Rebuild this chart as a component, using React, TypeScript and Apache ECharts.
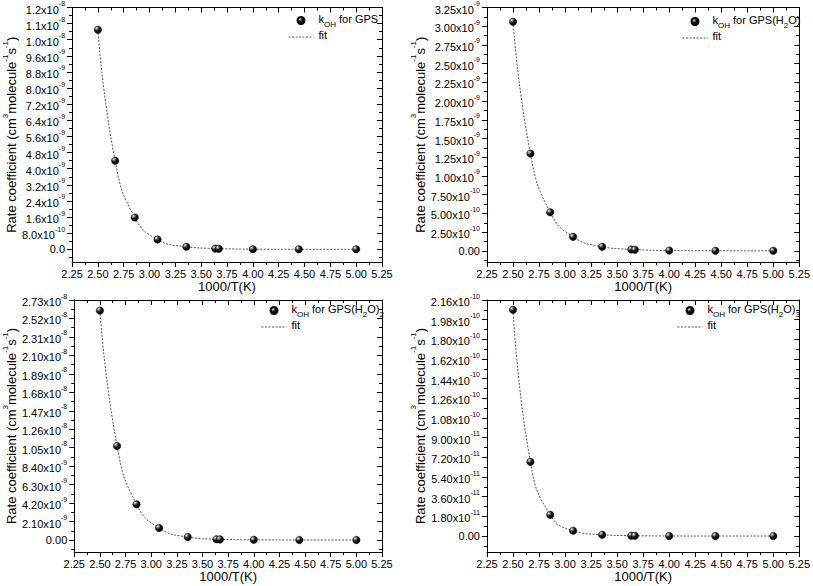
import React, { useEffect, useRef } from "react";
import * as echarts from "echarts";

const FONT = "'Liberation Sans', Arial, Helvetica, sans-serif";

// 1000/T (K^-1)
const invTemp = [2.5, 2.667, 2.857, 3.077, 3.356, 3.636, 3.67, 4.0, 4.444, 5.0];

// Rate coefficients (cm^3 molecule^-1 s^-1)
const kGPS = [1.09e-8, 4.4e-9, 1.58e-9, 4.9e-10, 1.3e-10, 3.5e-11, 3.0e-11, 6e-12, 1e-12, 2e-13];
const kGPS_H2O = [3.06e-9, 1.3e-9, 5.15e-10, 1.87e-10, 5.5e-11, 1.8e-11, 1.5e-11, 4e-12, 1e-12, 2e-13];
const kGPS_H2O2 = [2.61e-8, 1.07e-8, 4.06e-9, 1.37e-9, 3.4e-10, 8e-11, 7e-11, 2e-11, 4e-12, 1e-12];
const kGPS_H2O3 = [2.07e-10, 6.79e-11, 1.94e-11, 4.9e-12, 1.2e-12, 3e-13, 2.5e-13, 5e-14, 1e-14, 0];

// y tick values
const ticksGPS = [0, 8e-10, 1.6e-9, 2.4e-9, 3.2e-9, 4.0e-9, 4.8e-9, 5.6e-9, 6.4e-9, 7.2e-9, 8.0e-9, 8.8e-9, 9.6e-9, 1.04e-8, 1.12e-8, 1.2e-8];
const ticksGPS_H2O = [0, 2.5e-10, 5.0e-10, 7.5e-10, 1.0e-9, 1.25e-9, 1.5e-9, 1.75e-9, 2.0e-9, 2.25e-9, 2.5e-9, 2.75e-9, 3.0e-9, 3.25e-9];
const ticksGPS_H2O2 = [0, 2.1e-9, 4.2e-9, 6.3e-9, 8.4e-9, 1.05e-8, 1.26e-8, 1.47e-8, 1.68e-8, 1.89e-8, 2.1e-8, 2.31e-8, 2.52e-8, 2.73e-8];
const ticksGPS_H2O3 = [0, 1.8e-11, 3.6e-11, 5.4e-11, 7.2e-11, 9.0e-11, 1.08e-10, 1.26e-10, 1.44e-10, 1.62e-10, 1.8e-10, 1.98e-10, 2.16e-10];

const seriesNames = ["kOH for GPS", "kOH for GPS(H2O)", "kOH for GPS(H2O)2", "kOH for GPS(H2O)3"];
const legendRich: Record<string, string> = {
  "kOH for GPS": "{t|k}{b|OH}{t| for GPS}",
  "kOH for GPS(H2O)": "{t|k}{b|OH}{t| for GPS(H}{b|2}{t|O)}",
  "kOH for GPS(H2O)2": "{t|k}{b|OH}{t| for GPS(H}{b|2}{t|O)}{b|2}",
  "kOH for GPS(H2O)3": "{t|k}{b|OH}{t| for GPS(H}{b|2}{t|O)}{b|3}",
  fit: "{t|fit}",
};

const xTitle = "1000/T(K)";
const yTitle = "{t|Rate coefficient (cm}{s|3}{t|molecule}{s|-1}{t|s}{s|-1}{t|)}";

const panels = [
  { name: seriesNames[0], values: kGPS, ticks: ticksGPS, dec: 1, min: -6.3e-10, max: 1.2e-8,
    grid: { left: 68, top: 6, width: 314, height: 256 }, nameGap: 51, legend: { left: 288, top: 13 } },
  { name: seriesNames[1], values: kGPS_H2O, ticks: ticksGPS_H2O, dec: 2, min: -1.49e-10, max: 3.25e-9,
    grid: { left: 487, top: 6, width: 315, height: 256 }, nameGap: 60, legend: { left: 682, top: 14 } },
  { name: seriesNames[2], values: kGPS_H2O2, ticks: ticksGPS_H2O2, dec: 2, min: -1.365e-9, max: 2.73e-8,
    grid: { left: 68, top: 300, width: 314, height: 252 }, nameGap: 54, legend: { left: 261, top: 303 } },
  { name: seriesNames[3], values: kGPS_H2O3, ticks: ticksGPS_H2O3, dec: 2, min: -1.46e-11, max: 2.16e-10,
    grid: { left: 487, top: 300, width: 315, height: 252 }, nameGap: 60, legend: { left: 677, top: 303 } },
];

function fmt(v: number, dec: number) {
  if (Math.abs(v) < 1e-20) return "{z|" + (0).toFixed(dec) + "}";
  const e = Math.floor(Math.log10(Math.abs(v)) + 1e-9);
  const m = v / Math.pow(10, e);
  return "{m|" + m.toFixed(dec) + "x10}{e|" + e + "}";
}

function minorOf(ticks: number[], min: number, max: number) {
  const out: number[] = [];
  const step = ticks[1] - ticks[0];
  if (ticks[0] - step / 2 >= min) out.push(ticks[0] - step / 2);
  for (let i = 0; i < ticks.length - 1; i++) out.push((ticks[i] + ticks[i + 1]) / 2);
  const last = ticks[ticks.length - 1];
  if (last + step / 2 <= max) out.push(last + step / 2);
  return out;
}

const black = "#000";
const labelRich = {
  m: { fontSize: 11, fontFamily: FONT, color: black, lineHeight: 15, verticalAlign: "bottom" },
  e: { fontSize: 7, fontFamily: FONT, color: black, lineHeight: 7, verticalAlign: "top" },
  z: { fontSize: 11, fontFamily: FONT, color: black, lineHeight: 13 },
};

export default function App() {
  const ref = useRef<HTMLDivElement>(null);
  useEffect(() => {
    document.body.style.margin = "0";
    if (!ref.current) return;
    const chart = echarts.init(ref.current, null, { renderer: "svg" });

    const sphere = new echarts.graphic.RadialGradient(0.33, 0.3, 0.7, [
      { offset: 0, color: "#ffffff" },
      { offset: 0.18, color: "#9a9a9a" },
      { offset: 0.5, color: "#1a1a1a" },
      { offset: 1, color: "#000000" },
    ]);

    const xAxis: any[] = [];
    const yAxis: any[] = [];
    const series: any[] = [];
    const legend: any[] = [];

    panels.forEach((p, i) => {
      const xBase = {
        type: "value", gridIndex: i, min: 2.25, max: 5.25, interval: 0.25,
        splitLine: { show: false },
        axisLine: { show: true, onZero: false, lineStyle: { color: black, width: 1 } },
        minorTick: { show: true, splitNumber: 2, length: 3, lineStyle: { color: black, width: 1 } },
      };
      xAxis.push({
        ...xBase, position: "bottom",
        axisTick: { show: true, length: 5, lineStyle: { color: black, width: 1 } },
        axisLabel: { fontSize: 11, fontFamily: FONT, color: black, margin: 6, formatter: (v: number) => v.toFixed(2) },
        name: xTitle, nameLocation: "middle", nameGap: 17,
        nameTextStyle: { fontSize: 13, fontFamily: FONT, color: black },
      });
      xAxis.push({
        ...xBase, position: "top",
        axisTick: { show: true, inside: true, length: 5, lineStyle: { color: black, width: 1 } },
        axisLabel: { show: false },
      });

      const minor = minorOf(p.ticks, p.min, p.max);
      const yBase = {
        type: "value", gridIndex: i, min: p.min, max: p.max,
        splitLine: { show: false },
      };
      yAxis.push({
        ...yBase, position: "left",
        axisLine: { show: true, onZero: false, lineStyle: { color: black, width: 1 } },
        axisTick: { show: true, customValues: p.ticks, length: 5, lineStyle: { color: black, width: 1 } },
        axisLabel: {
          customValues: p.ticks, margin: 7, fontSize: 11, fontFamily: FONT, color: black,
          formatter: (v: number) => fmt(v, p.dec), rich: labelRich,
        },
        name: yTitle, nameLocation: "middle", nameGap: p.nameGap,
        nameTextStyle: {
          fontSize: 13, fontFamily: FONT, color: black,
          rich: {
            t: { fontSize: 13, fontFamily: FONT, color: black, lineHeight: 17, verticalAlign: "bottom" },
            s: { fontSize: 8, fontFamily: FONT, color: black, lineHeight: 8, verticalAlign: "top" },
          },
        },
      });
      yAxis.push({
        ...yBase, position: "left",
        axisLine: { show: false },
        axisTick: { show: true, customValues: minor, length: 3, lineStyle: { color: black, width: 1 } },
        axisLabel: { show: false },
      });
      yAxis.push({
        ...yBase, position: "right",
        axisLine: { show: true, onZero: false, lineStyle: { color: black, width: 1 } },
        axisTick: { show: true, inside: true, customValues: p.ticks, length: 5, lineStyle: { color: black, width: 1 } },
        axisLabel: { show: false },
      });
      yAxis.push({
        ...yBase, position: "right",
        axisLine: { show: false },
        axisTick: { show: true, inside: true, customValues: minor, length: 3, lineStyle: { color: black, width: 1 } },
        axisLabel: { show: false },
      });

      const pts = invTemp.map((x, j) => [x, p.values[j]]);
      series.push({
        type: "line", name: "fit", xAxisIndex: 2 * i, yAxisIndex: 4 * i,
        data: pts, smooth: 0.5, symbol: "none", showSymbol: false,
        itemStyle: { color: "#555", opacity: 0 },
        lineStyle: { color: "#555", width: 1, type: [2, 1.5], opacity: 1 }, z: 2,
      });
      series.push({
        type: "scatter", name: p.name, xAxisIndex: 2 * i, yAxisIndex: 4 * i,
        data: pts, symbol: "circle", symbolSize: 7.5,
        itemStyle: { color: sphere, borderColor: "#000", borderWidth: 0.4, opacity: 1 }, z: 3,
      });

      legend.push({
        data: [
          { name: p.name, icon: "circle" },
          { name: "fit", itemStyle: { opacity: 0 }, lineStyle: { color: "#555", width: 1, type: [2, 1.5], opacity: 1 } },
        ],
        orient: "vertical", left: p.legend.left, top: p.legend.top,
        itemWidth: 25, itemHeight: 7, itemGap: 1.5, padding: 0, selectedMode: false,
        formatter: (n: string) => legendRich[n],
        textStyle: {
          fontSize: 11, fontFamily: FONT, color: black,
          rich: {
            t: { fontSize: 11, fontFamily: FONT, color: black, lineHeight: 15, verticalAlign: "top" },
            b: { fontSize: 8, fontFamily: FONT, color: black, lineHeight: 8, verticalAlign: "bottom" },
          },
        },
      });
    });

    chart.setOption({
      animation: false,
      backgroundColor: "#fff",
      grid: panels.map((p) => ({ ...p.grid })),
      xAxis,
      yAxis,
      legend,
      series,
    });
    return () => chart.dispose();
  }, []);
  return <div ref={ref} style={{ width: 813, height: 586 }} />;
}
